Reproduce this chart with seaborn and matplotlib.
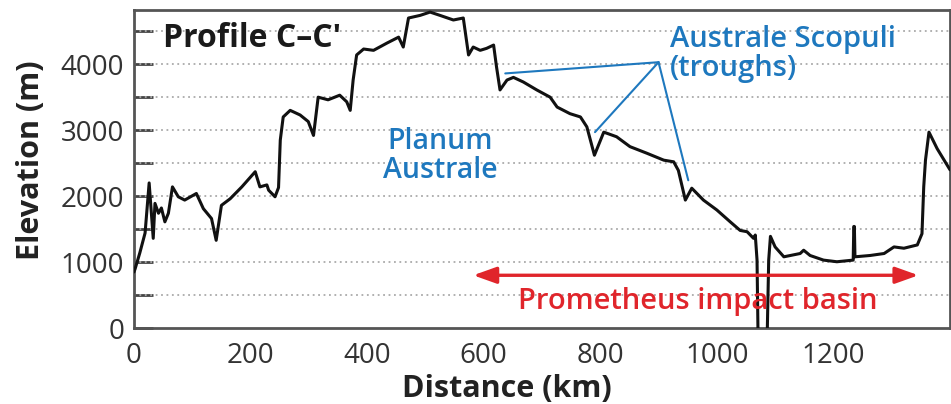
import matplotlib
matplotlib.use("Agg")
import matplotlib.pyplot as plt
import seaborn as sns
import pandas as pd
import numpy as np

# Topographic profile C-C' across Planum Australe into the Prometheus basin
distance_km = [0, 2, 10, 19, 26, 33, 36, 42, 47, 53, 59, 66, 76, 87, 107, 119, 133, 141,
               150, 165, 185, 208, 216, 228, 231, 242, 248, 251, 256, 268, 285, 299, 308,
               316, 333, 353, 365, 371, 376, 382, 394, 411, 434, 454, 462, 471, 491, 508,
               525, 548, 565, 574, 582, 594, 605, 617, 622, 628, 640, 651, 668, 691, 714,
               726, 748, 766, 777, 790, 806, 828, 851, 880, 909, 926, 934, 946, 957, 977,
               1000, 1023, 1040, 1052, 1063, 1066, 1069, 1071, 1086, 1089, 1092, 1100,
               1115, 1143, 1149, 1160, 1183, 1206, 1234, 1235, 1236, 1237, 1263, 1287,
               1304, 1321, 1344, 1352, 1355, 1358, 1364, 1378, 1400]
elevation_m = [850, 900, 1140, 1440, 2200, 1360, 1890, 1740, 1820, 1610, 1740, 2140, 1990,
               1940, 2040, 1810, 1660, 1330, 1860, 1960, 2140, 2370, 2140, 2170, 2090, 1990,
               2130, 2850, 3200, 3300, 3230, 3130, 2920, 3500, 3460, 3530, 3430, 3300, 3760,
               4140, 4230, 4210, 4320, 4410, 4260, 4700, 4740, 4790, 4740, 4670, 4700, 4140,
               4260, 4210, 4240, 4290, 3960, 3610, 3760, 3800, 3730, 3610, 3500, 3350, 3250,
               3200, 3050, 2620, 2970, 2900, 2750, 2650, 2545, 2520, 2390, 1940, 2120, 1940,
               1790, 1610, 1480, 1460, 1360, 1410, 1030, -300, -300, 1030, 1390, 1230, 1080,
               1130, 1180, 1100, 1030, 1005, 1030, 1540, 1540, 1080, 1100, 1130, 1230, 1210,
               1260, 1430, 2140, 2545, 2970, 2720, 2400]

y_major = [0, 1000, 2000, 3000, 4000]
x_major = [0, 200, 400, 600, 800, 1000, 1200]

# trough markers: apex of the leader lines and the three troughs they point to
leader_apex = (900, 4030)
trough_x = [637, 791, 951]
trough_y = [3860, 2970, 2240]

basin_span = (582, 1346)
basin_arrow_y = 800

BLUE = "#1e78be"
RED = "#e0252b"

sns.set_style("white")
plt.rcParams["font.family"] = ["Open Sans", "DejaVu Sans"]

df = pd.DataFrame({"Distance (km)": distance_km, "Elevation (m)": elevation_m})

fig = plt.figure(figsize=(9.51, 4.04), dpi=100)
ax = fig.add_axes([0.1409, 0.188, 0.858, 0.787])

sns.lineplot(data=df, x="Distance (km)", y="Elevation (m)", ax=ax, color="#111111",
             linewidth=2.2, sort=False, zorder=3)

ax.set_xlim(0, 1400)
ax.set_ylim(0, 4820)

ax.set_yticks(y_major)
ax.set_yticks(np.arange(500, 4600, 1000), minor=True)
ax.set_xticks(x_major)
ax.tick_params(axis="y", which="both", left=True, direction="in", length=14, width=2,
               color="#444444", labelsize=20, labelcolor="#333333", pad=7)
ax.tick_params(axis="x", which="both", bottom=False, length=0, labelsize=20,
               labelcolor="#333333", pad=10)

for yv in np.arange(500, 4600, 500):
    ax.axhline(yv, color="#aaaaaa", linestyle=(0, (1, 2)), linewidth=1.3, zorder=1)

for side in ["left", "right", "top", "bottom"]:
    ax.spines[side].set_visible(True)
    ax.spines[side].set_color("#555555")
    ax.spines[side].set_linewidth(2)

ax.set_xlabel("Distance (km)", fontsize=22, fontweight="bold", color="#222222")
ax.set_ylabel("Elevation (m)", fontsize=22, fontweight="bold", color="#222222")
ax.xaxis.set_label_coords((507 - 134) / 816, -(389 - 328) / 318)
ax.yaxis.set_label_coords(-(134 - 31) / 816, (328 - 160) / 318)
ax.xaxis.label.set_va("center")
ax.yaxis.label.set_va("center")

ax.text(50, 4394, "Profile C\u2013C'", fontsize=23, fontweight="bold", color="#1a1a1a",
        ha="left", va="center", zorder=4)

ax.text(920, 4152, "Australe Scopuli\n(troughs)", fontsize=21, fontweight="semibold",
        color=BLUE, ha="left", va="center", linespacing=1.0, zorder=4)
for tx, ty in zip(trough_x, trough_y):
    ax.plot([leader_apex[0], tx], [leader_apex[1], ty], color=BLUE, linewidth=1.5, zorder=4)

ax.text(525, 2606, "Planum\nAustrale", fontsize=20.5, fontweight="semibold", color=BLUE,
        ha="center", va="center", multialignment="center", linespacing=1.0, zorder=4)

ax.annotate("", xy=(basin_span[0], basin_arrow_y), xytext=(basin_span[1], basin_arrow_y),
            arrowprops=dict(arrowstyle="<|-|>,head_length=1.4,head_width=0.5",
                            color=RED, linewidth=2.4, shrinkA=0, shrinkB=0), zorder=4)
ax.text(967, 409, "Prometheus impact basin", fontsize=21, fontweight="semibold",
        color=RED, ha="center", va="center", zorder=4)

fig.savefig("out.png", dpi=100)
